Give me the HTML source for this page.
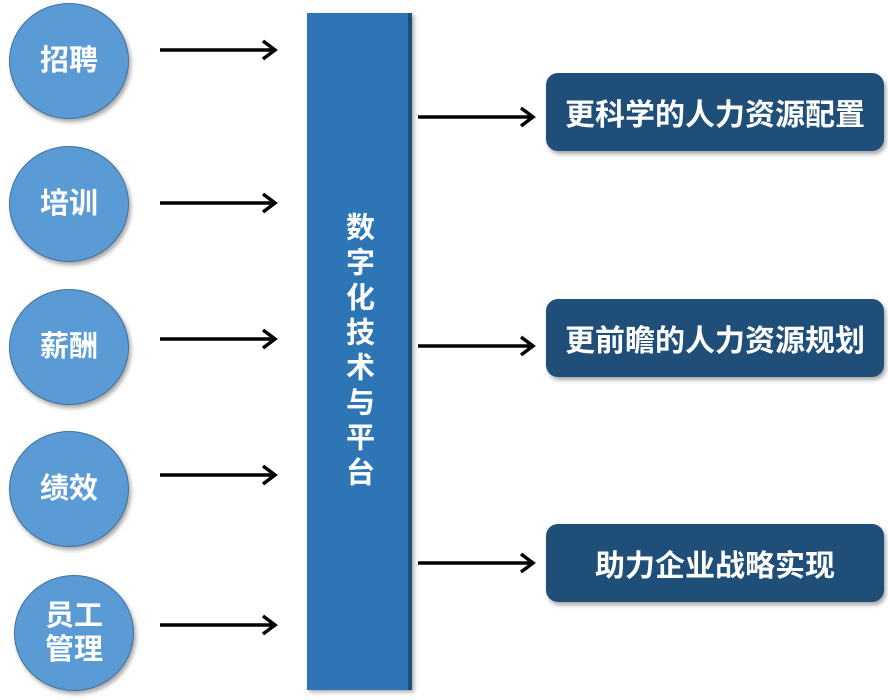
<!DOCTYPE html>
<html><head><meta charset="utf-8"><style>
body{margin:0;width:888px;height:700px;background:#fff;position:relative;overflow:hidden;font-family:"Liberation Sans","Noto Sans CJK SC",sans-serif;font-weight:bold}
.c{position:absolute;width:118px;height:114px;border-radius:50%;background:#5b9bd5;border:1.5px solid #41719c;box-shadow:2px 3px 4px rgba(0,0,0,.35);color:#fff;font-size:29px;display:flex;align-items:center;justify-content:center;text-align:center;line-height:34px}
.bar{position:absolute;left:307px;top:13px;width:101px;height:677px;background:#2e75b6;border-right:4px solid #1f4e79;box-shadow:2px 2px 4px rgba(0,0,0,.35);color:#fff;font-size:29px;display:flex;align-items:center;justify-content:center;writing-mode:vertical-rl;letter-spacing:6px}
.b{position:absolute;left:546px;width:338px;height:78px;border-radius:12px;background:#1f4e79;box-shadow:2px 3px 4px rgba(0,0,0,.35);color:#fff;font-size:30px;display:flex;align-items:center;justify-content:center}
svg{position:absolute;left:0;top:0}
</style></head><body>
<div class="c" style="left:9px;top:3px">招聘</div>
<div class="c" style="left:9px;top:146px">培训</div>
<div class="c" style="left:9px;top:289px">薪酬</div>
<div class="c" style="left:9px;top:431px">绩效</div>
<div class="c" style="left:14px;top:575px">员工<br>管理</div>
<div class="bar">数字化技术与平台</div>
<div class="b" style="top:73px">更科学的人力资源配置</div>
<div class="b" style="top:299px">更前瞻的人力资源规划</div>
<div class="b" style="top:524px">助力企业战略实现</div>
<svg width="888" height="700" fill="none" stroke="#000" stroke-width="3.5">
<path d="M160 50H275M263 41l12 9-12 9"/>
<path d="M160 203H275M263 194l12 9-12 9"/>
<path d="M160 339H275M263 330l12 9-12 9"/>
<path d="M160 475H275M263 466l12 9-12 9"/>
<path d="M160 625H275M263 616l12 9-12 9"/>
<path d="M418 117H533M521 108l12 9-12 9"/>
<path d="M418 346H533M521 337l12 9-12 9"/>
<path d="M418 563H533M521 554l12 9-12 9"/>
</svg>
</body></html>
